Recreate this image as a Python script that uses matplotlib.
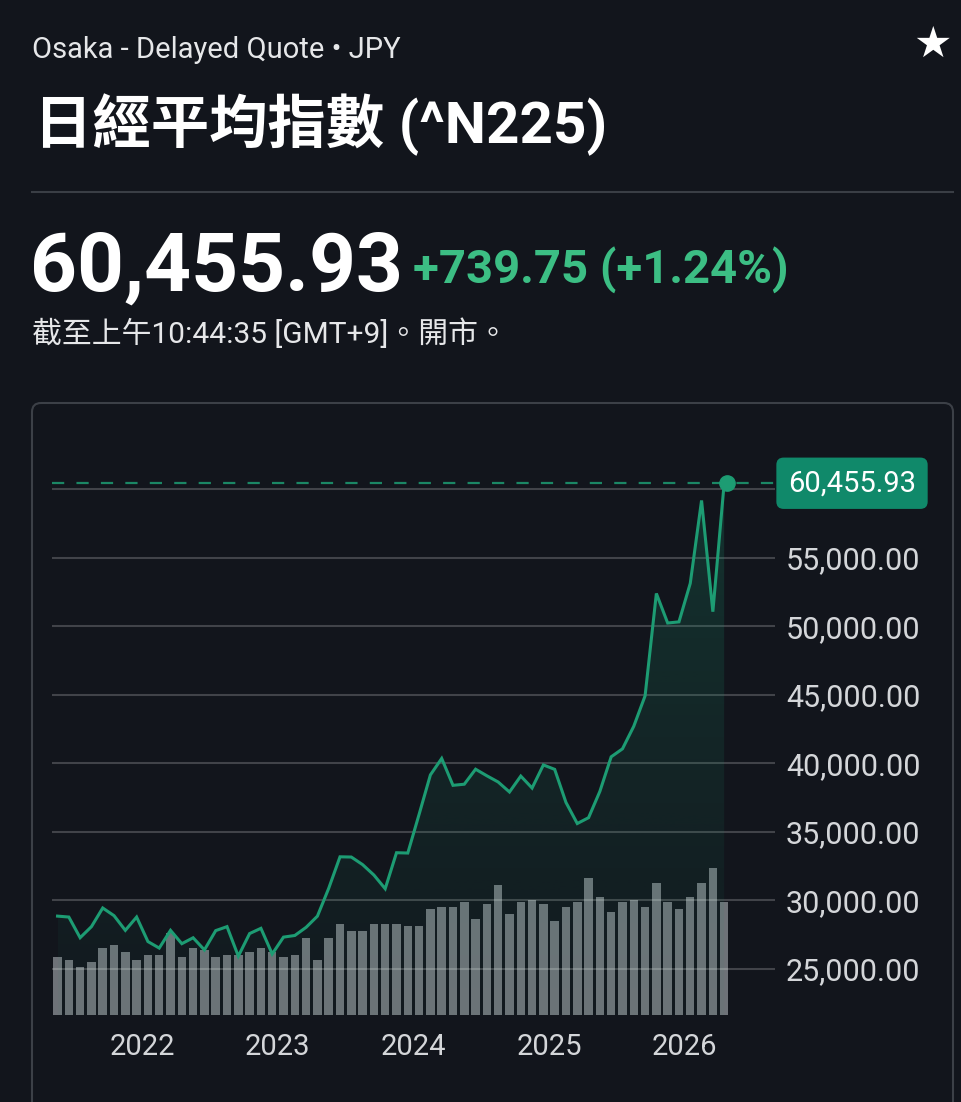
import numpy as np
import pandas as pd
import matplotlib
matplotlib.use("Agg")
import matplotlib.pyplot as plt
import matplotlib.transforms as mtransforms
from matplotlib.patches import FancyBboxPatch, Polygon

# monthly closes of the Nikkei 225, May 2021 .. Apr 2026
months = pd.date_range("2021-05-01", periods=60, freq="MS")
close = [28860, 28792, 27284, 28090, 29453, 28893, 27822, 28792,
         27002, 26527, 27821, 26848, 27280, 26393, 27802, 28092, 25937, 27587, 27969, 26095,
         27327, 27446, 28041, 28856, 30888, 33189, 33172, 32619, 31858, 30859, 33487, 33464,
         36287, 39166, 40369, 38406, 38488, 39583, 39102, 38648, 37920, 39081, 38208, 39895,
         39572, 37156, 35618, 36045, 37965, 40487, 41070, 42718, 44933, 52411, 50254, 50339,
         53150, 59200, 51080, 60455.93]
# monthly volume (billions)
volume = [1.16, 1.10, 0.96, 1.06, 1.34, 1.40, 1.26, 1.10, 1.20, 1.20, 1.64, 1.16,
          1.34, 1.30, 1.16, 1.20, 1.20, 1.26, 1.34, 1.26, 1.16, 1.20, 1.54, 1.10,
          1.54, 1.82, 1.68, 1.68, 1.82, 1.82, 1.82, 1.78, 1.78, 2.12, 2.16, 2.16,
          2.26, 1.92, 2.22, 2.60, 2.02, 2.26, 2.30, 2.22, 1.88, 2.16, 2.26, 2.74,
          2.36, 2.06, 2.26, 2.30, 2.16, 2.64, 2.26, 2.12, 2.36, 2.64, 2.94, 2.26]
price_ticks = [25000, 30000, 35000, 40000, 45000, 50000, 55000]
grid_levels = price_ticks + [60000]

exchange = "Osaka - Delayed Quote • JPY"
title = "日經平均指數 (^N225)"
last_price = "60,455.93"
change = "+739.75 (+1.24%)"
as_of = "截至上午10:44:35 [GMT+9]。開市。"

BG = "#12151c"
GREEN = "#1d9c73"
GREEN_TXT = "#3cbe84"
LABEL = "#d4d6d9"
W, H = 962, 1102

plt.rcParams["font.family"] = ["Roboto", "Noto Sans CJK TC", "DejaVu Sans"]

fig = plt.figure(figsize=(W / 100, H / 100), dpi=100, facecolor=BG)
px = mtransforms.Affine2D().scale(1 / W, -1 / H).translate(0, 1) + fig.transFigure

# header
fig.text(32, 58, exchange, transform=px, color="#e6e7e9", fontsize=21, va="baseline")
fig.text(932, 45, "★", transform=px, color="white", fontsize=31, ha="center", va="center",
         family="DejaVu Sans")
fig.text(34, 143, title, transform=px, color="white", fontsize=42, fontweight="bold", va="baseline")
fig.add_artist(plt.Line2D([32, 953], [192, 192], transform=px, color="#3a3e45", lw=1.5))
fig.text(30, 291, last_price, transform=px, color="white", fontsize=59,
         fontweight="bold", va="baseline")
fig.text(413, 283, change, transform=px, color=GREEN_TXT, fontsize=34,
         fontweight="bold", va="baseline")
fig.text(32, 343, as_of, transform=px, color="#e6e7e9", fontsize=21.5, va="baseline")

# card
card = FancyBboxPatch((32, 403), 921, 760, boxstyle="round,pad=0,rounding_size=9",
                      transform=px, fc="none", ec="#3c4047", lw=1.5)
fig.add_artist(card)

# chart area
left, right, top, bottom = 52, 775, 460, 1015
ax = fig.add_axes([left / W, 1 - bottom / H, (right - left) / W, (bottom - top) / H])
ax.set_facecolor(BG)
x = np.arange(len(close))
ax.bar(x, volume, width=0.75, color="#6e7278", zorder=1)
ax.set_ylim(0, 11.1)
ax.set_xlim(-0.49, 63.5)
ax.set_yticks([])
year_pos = [i - 0.5 for i, d in enumerate(months) if d.month == 1]
ax.set_xticks(year_pos, [str(months[int(p + 0.5)].year) for p in year_pos])
ax.tick_params(axis="x", length=0, pad=13, labelsize=21, labelcolor=LABEL)
for s in ax.spines.values():
    s.set_visible(False)

ax2 = ax.twinx()
ymin, ymax = 21642, 62153
ax2.set_ylim(ymin, ymax)
for lv in grid_levels:
    ax2.axhline(lv, color="white", alpha=0.2, lw=1.5, zorder=0.5)

# gradient area under the line
grad = np.zeros((256, 1, 4))
grad[:, 0, :3] = matplotlib.colors.to_rgb(GREEN)
grad[:, 0, 3] = np.linspace(0.03, 0.22, 256)
im = ax2.imshow(grad, extent=[x[0], x[-1], ymin, max(close)], origin="lower",
                aspect="auto", zorder=1)
poly = Polygon(np.column_stack([np.r_[x[0], x, x[-1]], np.r_[ymin, close, ymin]]),
               closed=True, transform=ax2.transData, fc="none", ec="none")
ax2.add_patch(poly)
im.set_clip_path(poly)

ax2.plot(x, close, color=GREEN, lw=2.2, zorder=3, solid_joinstyle="miter")
ax2.axhline(close[-1], color=GREEN, lw=1.6, ls=(0, (5.5, 5.5)), alpha=0.85, zorder=2)
ax2.plot(x[-1] + 0.25, close[-1], "o", ms=11, color=GREEN, zorder=4)
ax2.set_xlim(-0.49, 63.5)
ax2.set_ylim(ymin, ymax)

ax2.set_yticks(price_ticks, [f"{v:,.2f}" for v in price_ticks])
ax2.tick_params(axis="y", length=0, pad=8, labelsize=22, labelcolor=LABEL)
for s in ax2.spines.values():
    s.set_visible(False)

blend = mtransforms.blended_transform_factory(ax2.transAxes, ax2.transData)
ax2.text(1.018, close[-1], f"{close[-1]:,.2f}", transform=blend, ha="left", va="center",
         color="white", fontsize=21, clip_on=False, zorder=6,
         bbox=dict(boxstyle="round,pad=0.4,rounding_size=0.25", fc="#10896a", ec="none"))

fig.savefig("out.png", dpi=100, facecolor=BG)
